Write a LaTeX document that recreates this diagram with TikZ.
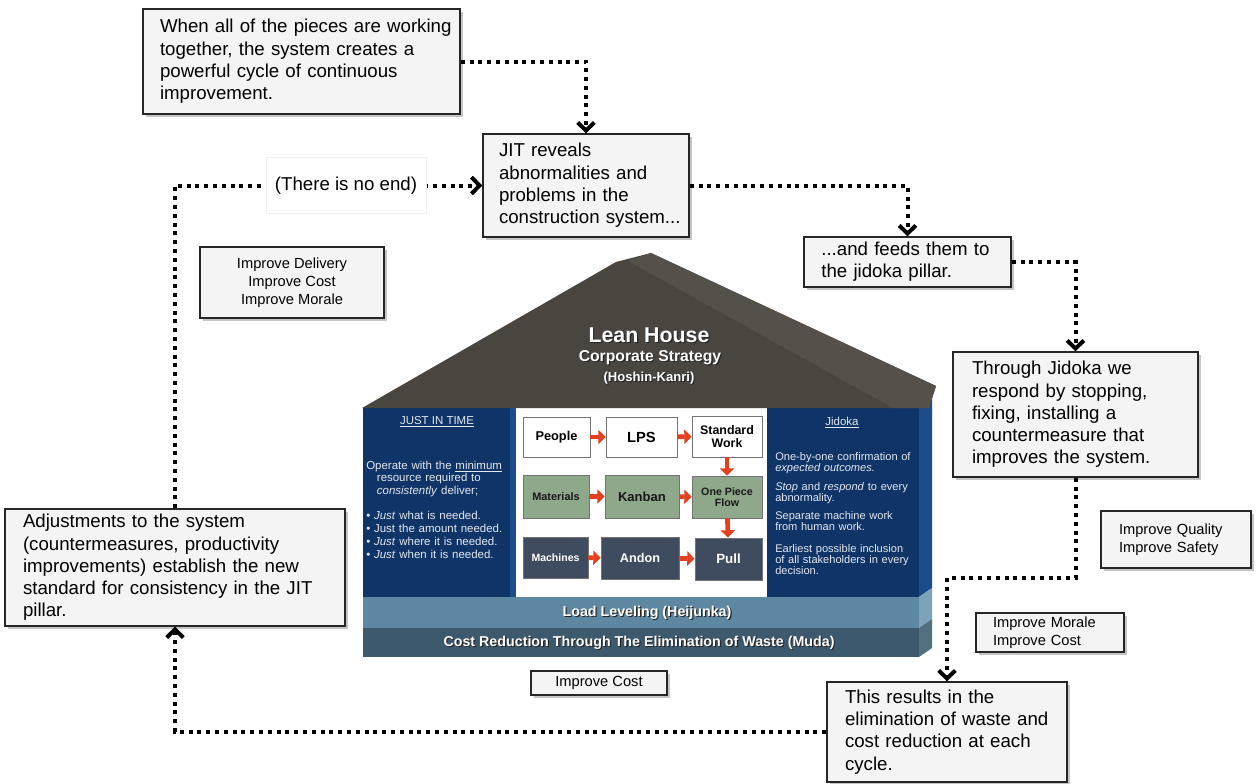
\documentclass[tikz,border=0pt]{standalone}
\usepackage{fontspec}
\setmainfont{Liberation Sans}
\usetikzlibrary{arrows.meta,shadows}

\definecolor{boxfill}{HTML}{F4F4F4}
\definecolor{roofdark}{HTML}{4B4540}
\definecolor{rooflight}{HTML}{56504B}
\definecolor{navy}{HTML}{0F3467}
\definecolor{navyside}{HTML}{1D4C8A}
\definecolor{llfront}{HTML}{5E88A2}
\definecolor{llside}{HTML}{7DA3BA}
\definecolor{crfront}{HTML}{3C596D}
\definecolor{crside}{HTML}{52707F}
\definecolor{greenbox}{HTML}{8FA78B}
\definecolor{slatebox}{HTML}{3F4C5F}
\definecolor{arrowred}{HTML}{E5401D}
\definecolor{pillartxt}{HTML}{E4E8F0}

% white lettering with a dark drop shadow
\newcommand{\shd}[1]{\leavevmode\rlap{\kern0.9pt\raisebox{-0.9pt}{\textcolor{black!85}{#1}}}#1}

\begin{document}
\begin{tikzpicture}[x=0.75pt,y=-0.75pt,
  callout/.style={draw=black!85, line width=1.1pt, fill=boxfill,
    drop shadow={shadow xshift=2.6pt, shadow yshift=-2.6pt, fill=black!45},
    font=\fontsize{14}{16.7}\selectfont, align=left, inner xsep=0pt, inner ysep=0pt},
  smallbox/.style={draw=black!85, line width=1.1pt, fill=boxfill,
    drop shadow={shadow xshift=2.4pt, shadow yshift=-2.4pt, fill=black!45},
    font=\fontsize{11}{13.5}\selectfont, inner xsep=0pt, inner ysep=0pt},
  dotline/.style={line width=3pt, dash pattern=on 3pt off 3.6pt, black},
  tip/.style={-{Straight Barb[length=6pt,width=12.5pt,line width=3pt]}},
  ibox/.style={draw=black!55, line width=0.6pt, inner sep=0pt, align=center},
  whitebox/.style={ibox, fill=white, text=black},
  greenb/.style={ibox, fill=greenbox, text=black!90},
  slateb/.style={ibox, fill=slatebox, text=white},
  redarr/.style={line width=3.6pt, draw=arrowred, -{Triangle[length=5.5pt,width=10.5pt]}},
  pillar/.style={text=pillartxt, font=\fontsize{8.6}{9.7}\selectfont, align=left, inner sep=0pt},
  bartext/.style={text=white, font=\bfseries\fontsize{10.7}{12}\selectfont, inner sep=0pt}
]
\fill[white] (0,0) rectangle (1257,783);
\path[use as bounding box] (0,0) rectangle (1257,783);

% ---------- house: pillars and foundation ----------
\fill[navy] (363,408) rectangle (510,597);
\fill[navyside] (510,408) rectangle (516,597);
\fill[white] (516,408) rectangle (767,597);
\fill[navy] (767,408) rectangle (919,597);
\fill[navyside] (919,408) -- (932,399) -- (932,588) -- (919,597) -- cycle;
\fill[llfront] (363,597) rectangle (919,628);
\fill[llside] (919,597) -- (932,588) -- (932,619) -- (919,628) -- cycle;
\fill[crfront] (363,628) rectangle (919,657);
\fill[crside] (919,628) -- (932,619) -- (932,648) -- (919,657) -- cycle;

% ---------- roof ----------
\fill[roofdark] (362,408) -- (616,262) -- (651,253) -- (936,386) -- (929,408) -- cycle;
\fill[rooflight] (628,261) -- (651,253) -- (936,386) -- (929,408) -- (893,408) -- cycle;

\node[text=white, font=\bfseries\fontsize{16}{18}\selectfont, inner sep=0pt] (leanhouse) at (649,336) {\shd{Lean House}};
\node[text=white, font=\bfseries\fontsize{11.8}{13}\selectfont, inner sep=0pt] (strategy) at (650,358) {\shd{Corporate Strategy}};
\node[text=white, font=\bfseries\fontsize{9.8}{11}\selectfont, inner sep=0pt] (hoshin) at (649,379) {\shd{(Hoshin-Kanri)}};

% ---------- pillar texts ----------
\node[pillar] (jittitle) at (437,422) {\underline{JUST IN TIME}};
\node[pillar, text width=108pt, anchor=base west] (jitbody) at (366,469) {%
Operate with the \underline{minimum}\\
\hspace*{8pt}resource required to\\
\hspace*{8pt}\textit{consistently} deliver;\\[9pt]
\textbullet\ \textit{Just} what is needed.\\
\textbullet\ Just the amount needed.\\
\textbullet\ \textit{Just} where it is needed.\\
\textbullet\ \textit{Just} when it is needed.};

\node[pillar] (jidtitle) at (842,423) {\underline{Jidoka}};
\node[pillar, text width=110pt, anchor=base west, font=\fontsize{8.3}{8.3}\selectfont] (jidbody) at (775,460) {%
One-by-one confirmation of\\
\textit{expected outcomes.}\\[6pt]
\textit{Stop} and \textit{respond} to every\\
abnormality.\\[5.5pt]
Separate machine work\\
from human work.\\[8pt]
Earliest possible inclusion\\
of all stakeholders in every\\
decision.};

% ---------- foundation texts ----------
\node[bartext] (heijunka) at (647,613) {\shd{Load Leveling (Heijunka)}};
\node[bartext] (muda) at (639,643) {\shd{Cost Reduction Through The Elimination of Waste (Muda)}};

% ---------- production system boxes ----------
\node[whitebox, minimum width=50.25pt, minimum height=30pt, font=\bfseries\fontsize{9.6}{11}\selectfont] (people) at (556.5,437) {People};
\node[whitebox, minimum width=53.25pt, minimum height=30pt, font=\bfseries\fontsize{11}{12}\selectfont] (lps) at (641.5,437) {LPS};
\node[whitebox, minimum width=52.5pt, minimum height=30.75pt, font=\bfseries\fontsize{9.3}{10.3}\selectfont] (stdwork) at (727,436.5) {Standard\\Work};

\node[greenb, minimum width=49.5pt, minimum height=32.25pt, font=\bfseries\fontsize{8.2}{9}\selectfont] (materials) at (556,496.5) {Materials};
\node[greenb, minimum width=55.5pt, minimum height=32.25pt, font=\bfseries\fontsize{9.8}{11}\selectfont] (kanban) at (642,496.5) {Kanban};
\node[greenb, minimum width=52.5pt, minimum height=31.5pt, font=\bfseries\fontsize{8}{7.8}\selectfont] (opf) at (727,497) {One Piece\\Flow};

\node[slateb, minimum width=48.75pt, minimum height=30.75pt, font=\bfseries\fontsize{7.9}{9}\selectfont] (machines) at (555.5,557.5) {Machines};
\node[slateb, minimum width=58.5pt, minimum height=31.5pt, font=\bfseries\fontsize{9.5}{11}\selectfont] (andon) at (640,558) {Andon};
\node[slateb, minimum width=50.25pt, minimum height=31.5pt, font=\bfseries\fontsize{10}{11}\selectfont] (pull) at (728.5,559) {Pull};

\draw[redarr] (people) -- (lps);
\draw[redarr] (lps) -- (stdwork);
\draw[redarr] (materials) -- (kanban);
\draw[redarr] (kanban) -- (opf);
\draw[redarr] (machines) -- (andon);
\draw[redarr] (andon) -- (pull);
\draw[redarr] (stdwork) -- (opf);
\draw[redarr] (opf) -- (pull);

% ---------- cycle callouts ----------
\node[callout, text width=237.75pt, minimum height=78.75pt, execute at begin node={\leftskip=12.75pt}] (when) at (301.5,61.5)
  {When all of the pieces are working\\ together, the system creates a\\ powerful cycle of continuous\\ improvement.};
\node[callout, text width=154.5pt, minimum height=77.25pt, execute at begin node={\leftskip=12pt}] (jit) at (586,185.5)
  {JIT reveals\\ abnormalities and\\ problems in the\\ construction system...};
\node[callout, text width=155.25pt, minimum height=37.5pt, execute at begin node={\leftskip=13pt}] (feeds) at (907.5,262)
  {...and feeds them to\\ the jidoka pillar.};
\node[callout, text width=183.75pt, minimum height=93.75pt, execute at begin node={\leftskip=14.25pt}] (jid) at (1075.5,414.5)
  {Through Jidoka we\\ respond by stopping,\\ fixing, installing a\\ countermeasure that\\ improves the system.};
\node[callout, text width=180pt, minimum height=75pt, execute at begin node={\leftskip=13.5pt}] (results) at (947,732)
  {This results in the\\ elimination of waste and\\ cost reduction at each\\ cycle.};
\node[callout, text width=255pt, minimum height=87.75pt, execute at begin node={\leftskip=13.5pt}] (adjust) at (175,567.5)
  {Adjustments to the system\\ (countermeasures, productivity\\ improvements) establish the new\\ standard for consistency in the JIT\\ pillar.};

% ---------- benefit boxes ----------
\node[smallbox, align=center, minimum width=138pt, minimum height=53.25pt] (deliv) at (292,282.5)
  {Improve Delivery\\ Improve Cost\\ Improve Morale};
\node[smallbox, align=center, minimum width=102pt, minimum height=18pt] (costonly) at (599,683) {Improve Cost};
\node[smallbox, align=left, text width=112.5pt, minimum height=42.75pt, execute at begin node={\leftskip=13.5pt}] (quality) at (1176,539.5)
  {Improve Quality\\ Improve Safety};
\node[smallbox, align=left, text width=111pt, minimum height=29.25pt, execute at begin node={\leftskip=12.75pt}] (morale) at (1050,632.5)
  {Improve Morale\\ Improve Cost};

% ---------- dotted cycle connectors ----------
\coordinate (turn) at (1000,578);
\draw[dotline, tip] (when.east) -| (jit.north);
\draw[dotline, tip] (jit.east) -| (feeds.north);
\draw[dotline, tip] (feeds.east) -| (jid.north);
\draw[dotline, tip] (jid.south) |- (turn) -| (results.north);
\draw[dotline, tip] (results.west) -| (adjust.south);
\draw[dotline, tip] (adjust.north) |- (jit.west);
\node[fill=white, draw=black!6, minimum width=120pt, minimum height=42pt, inner sep=0pt,
  font=\fontsize{14}{16.7}\selectfont] (noend) at (346,185.5) {(There is no end)};
\end{tikzpicture}
\end{document}
